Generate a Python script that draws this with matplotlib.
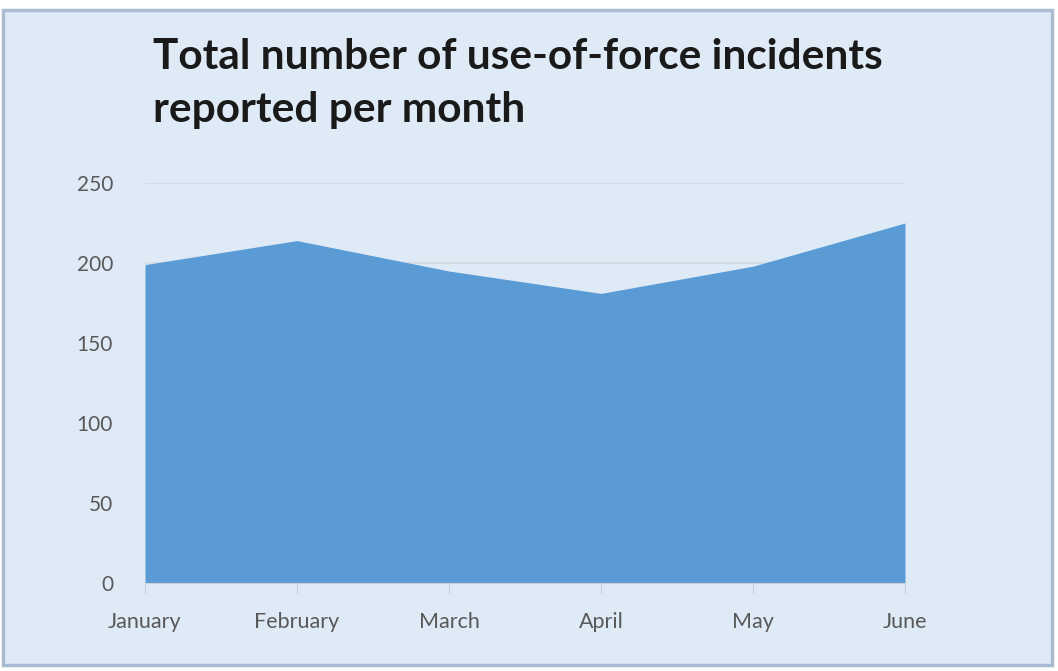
import matplotlib
matplotlib.use("Agg")
import matplotlib.pyplot as plt
from matplotlib.patches import Rectangle

months = ["January", "February", "March", "April", "May", "June"]
incidents = [199, 214, 195, 181, 198, 225]
yticks = [0, 50, 100, 150, 200, 250]
title_lines = ["Total number of use-of-force incidents", "reported per month"]

W, H = 1058, 671
fig = plt.figure(figsize=(W / 100, H / 100), dpi=100)
fig.patch.set_facecolor("white")

bg = "#DEEAF6"
fig.patches.append(Rectangle((3 / W, 1 - 665 / H), (1052 - 3) / W, (665 - 10) / H,
                             transform=fig.transFigure, facecolor=bg,
                             edgecolor="#A9BCD3", linewidth=2.5, zorder=-5))

ax = fig.add_axes([145 / W, 1 - 583 / H, (905 - 145) / W, (583 - 183) / H], zorder=2)
ax.set_facecolor("none")
x = list(range(len(months)))
ax.fill_between(x, incidents, 0, color="#5B9BD5", linewidth=0, zorder=2)
ax.set_xlim(0, len(months) - 1)
ax.set_ylim(0, 250)
ax.set_yticks(yticks)
ax.set_xticks(x)
ax.set_xticklabels(months)
ax.grid(axis="y", color="#D6DCE4", linewidth=1.5, zorder=1)
ax.set_axisbelow(True)
for s in ["top", "right", "left"]:
    ax.spines[s].set_visible(False)
ax.spines["bottom"].set_color("#C8D0DA")
ax.tick_params(axis="y", length=0, pad=23, labelsize=15, labelcolor="#595959")
ax.tick_params(axis="x", length=8, color="#C8D0DA", pad=13, labelsize=15.5, labelcolor="#595959")
for lab in ax.get_xticklabels() + ax.get_yticklabels():
    lab.set_family("Lato")

for i, line in enumerate(title_lines):
    fig.text(153 / W, 1 - (57 + 53 * i) / H, line,
             fontsize=30.5, fontweight="bold", family="Lato", color="#1a1a1a",
             va="center", ha="left")
fig.savefig("out.png", dpi=100)
